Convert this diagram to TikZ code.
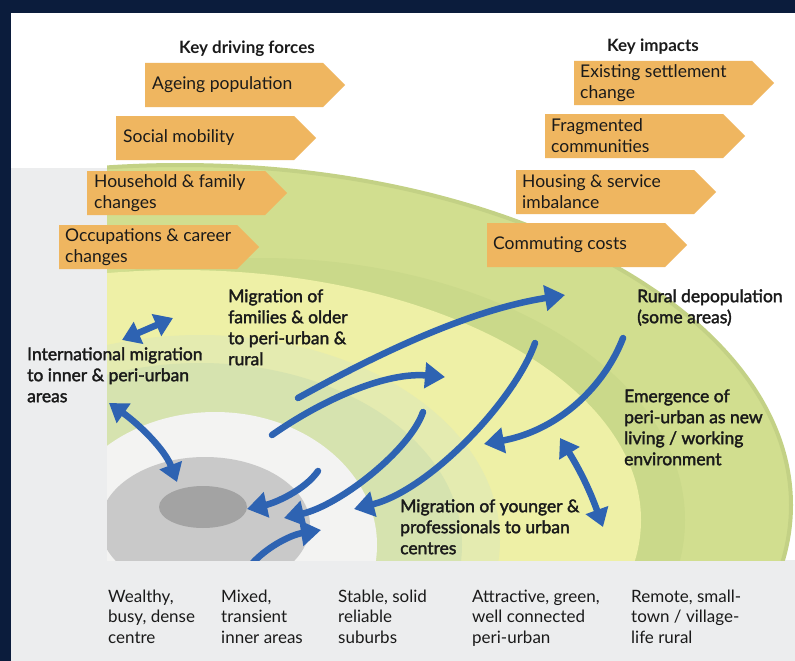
\documentclass[tikz,border=0pt]{standalone}
\usepackage{fontspec}
\setmainfont{Lato}
\newfontfamily\medfont[FakeBold=2]{Lato}
\usetikzlibrary{arrows.meta}
\definecolor{navy}{HTML}{0B1C3C}
\definecolor{bggrey}{HTML}{ECEDEE}
\definecolor{obox}{HTML}{EFB660}
\definecolor{ablue}{HTML}{2E63B2}
\definecolor{gouter}{HTML}{D1DE8F}
\definecolor{gband}{HTML}{CAD98A}
\definecolor{grim}{HTML}{C3D185}
\definecolor{yellowz}{HTML}{EEF0A6}
\definecolor{lyband}{HTML}{E4EBB0}
\definecolor{paleg}{HTML}{D6E3AF}
\definecolor{whitez}{HTML}{F3F3F2}
\definecolor{midgrey}{HTML}{C9C9C9}
\definecolor{coregrey}{HTML}{A3A3A3}
\definecolor{ink}{HTML}{1A1A1A}
\newcommand{\fstrut}{\rule{0pt}{13pt}}
\begin{document}
\begin{tikzpicture}[x=1pt,y=-1pt,
  oboxfill/.style={fill=obox},
  btext/.style={anchor=west, inner sep=0, align=left, text=ink, font=\fontsize{17.5}{21}\selectfont},
  lab/.style={anchor=north west, inner sep=0, align=left, text=ink, font=\medfont\fontsize{17.5}{21}\selectfont},
  blab/.style={anchor=north west, inner sep=0, align=left, text=ink, font=\fontsize{17}{20.5}\selectfont},
  head/.style={anchor=base, inner sep=0, text=ink, font=\bfseries\fontsize{17}{20}\selectfont},
  barrow/.style={draw=ablue, line width=6.5pt, line cap=round, -{Triangle[length=20pt,width=25pt]}},
  dbarrow/.style={draw=ablue, line width=6.5pt, {Triangle[length=18pt,width=23pt]}-{Triangle[length=18pt,width=23pt]}}]
\useasboundingbox (0,0) rectangle (795,661);
% background
\fill[navy] (0,0) rectangle (795,661);
\fill[white] (11,13) rectangle (795,661);
\fill[bggrey] (11,168) rectangle (107,661);
\fill[bggrey] (11,560) rectangle (795,661);
% concentric zones
\begin{scope}
\clip (107,13) rectangle (795,560);
\fill[gouter, draw=grim, line width=4pt] (180,505) ellipse [x radius=611pt, y radius=340pt];
\fill[gband] (260,520) ellipse [x radius=425pt, y radius=262pt];
\fill[yellowz] (180,520) ellipse [x radius=461pt, y radius=250pt];
\fill[lyband] (200,540) ellipse [x radius=300pt, y radius=205pt];
\fill[paleg] (200,545) ellipse [x radius=262pt, y radius=182pt];
\fill[whitez] (215,545) ellipse [x radius=162pt, y radius=133pt];
\fill[midgrey] (205,525) ellipse [x radius=105pt, y radius=68pt];
\fill[coregrey] (203,507) ellipse [x radius=44pt, y radius=21pt];
% arrows
\coordinate (a1s) at (122,340); \coordinate (a1e) at (173,318);
\draw[dbarrow] (a1s) -- (a1e);
\coordinate (a2s) at (109,403); \coordinate (a2e) at (177,482);
\draw[dbarrow] (a2s) .. controls (140,425) and (165,450) .. (a2e);
\coordinate (a3s) at (298,398); \coordinate (a3e) at (565,295);
\draw[barrow] (a3s) .. controls (388,348) and (475,309) .. (a3e);
\coordinate (a4s) at (272,435); \coordinate (a4e) at (445,377);
\draw[barrow] (a4s) .. controls (322,400) and (385,372) .. (a4e);
\coordinate (a5s) at (423,412); \coordinate (a5e) at (284,518);
\draw[barrow] (a5s) .. controls (410,450) and (340,505) .. (a5e);
\coordinate (a6s) at (535,343); \coordinate (a6e) at (354,509);
\draw[barrow] (a6s) .. controls (515,400) and (430,490) .. (a6e);
\coordinate (a7s) at (623,338); \coordinate (a7e) at (484,444);
\draw[barrow] (a7s) .. controls (605,385) and (560,430) .. (a7e);
\coordinate (a8s) at (560,438); \coordinate (a8e) at (603,527);
\draw[dbarrow] (a8s) to[bend left=6] (a8e);
\coordinate (a9s) at (318,471); \coordinate (a9e) at (247,509);
\draw[barrow] (a9s) .. controls (305,490) and (275,503) .. (a9e);
\coordinate (a10s) at (250,566); \coordinate (a10e) at (321,530);
\draw[barrow] (a10s) .. controls (265,548) and (290,535) .. (a10e);
\end{scope}
% orange boxes
\fill[oboxfill] (145,63) -- ++(178,0) -- ++(22,22) -- ++(-22,22) -- ++(-178,0) -- cycle;
\node[btext] (ageing) at (152,85) {Ageing population};
\fill[oboxfill] (116,116) -- ++(178,0) -- ++(22,22) -- ++(-22,22) -- ++(-178,0) -- cycle;
\node[btext] (social) at (123,138) {Social mobility};
\fill[oboxfill] (87,171) -- ++(178,0) -- ++(22,22) -- ++(-22,22) -- ++(-178,0) -- cycle;
\node[btext] (household) at (94,193) {Household \& family\\changes};
\fill[oboxfill] (59,225) -- ++(178,0) -- ++(22,22) -- ++(-22,22) -- ++(-178,0) -- cycle;
\node[btext] (occup) at (65,247) {Occupations \& career\\changes};
\fill[oboxfill] (574,61) -- ++(178,0) -- ++(22,22) -- ++(-22,22) -- ++(-178,0) -- cycle;
\node[btext] (existing) at (580,83) {Existing settlement\\change};
\fill[oboxfill] (545,114) -- ++(178,0) -- ++(22,22) -- ++(-22,22) -- ++(-178,0) -- cycle;
\node[btext] (fragm) at (551,136) {Fragmented\\communities};
\fill[oboxfill] (516,170) -- ++(178,0) -- ++(22,22) -- ++(-22,22) -- ++(-178,0) -- cycle;
\node[btext] (housing) at (522,192) {Housing \& service\\imbalance};
\fill[oboxfill] (487,223) -- ++(178,0) -- ++(22,22) -- ++(-22,22) -- ++(-178,0) -- cycle;
\node[btext] (commut) at (493,245) {Commuting costs};
% headings
\node[head] (hdrive) at (247,53) {Key driving forces};
\node[head] (himpact) at (653,52) {Key impacts};
% diagram labels
\node[lab] (intl) at (27,347) {\fstrut International migration\\to inner \& peri-urban\\areas};
\node[lab] (fam) at (228,289) {\fstrut Migration of\\families \& older\\to peri-urban \&\\rural};
\node[lab] (rural) at (637,289) {\fstrut Rural depopulation\\(some areas)};
\node[lab] (emerg) at (624,389) {\fstrut Emergence of\\peri-urban as new\\living / working\\environment};
\node[lab] (young) at (400,499) {\fstrut Migration of younger \&\\professionals to urban\\centres};
% bottom labels
\node[blab] (z1) at (108,589) {\fstrut Wealthy,\\busy, dense\\centre};
\node[blab] (z2) at (221,589) {\fstrut Mixed,\\transient\\inner areas};
\node[blab] (z3) at (338,589) {\fstrut Stable, solid\\reliable\\suburbs};
\node[blab] (z4) at (472,589) {\fstrut Attractive, green,\\well connected\\peri-urban};
\node[blab] (z5) at (631,589) {\fstrut Remote, small-\\town / village-\\life rural};
\end{tikzpicture}
\end{document}
